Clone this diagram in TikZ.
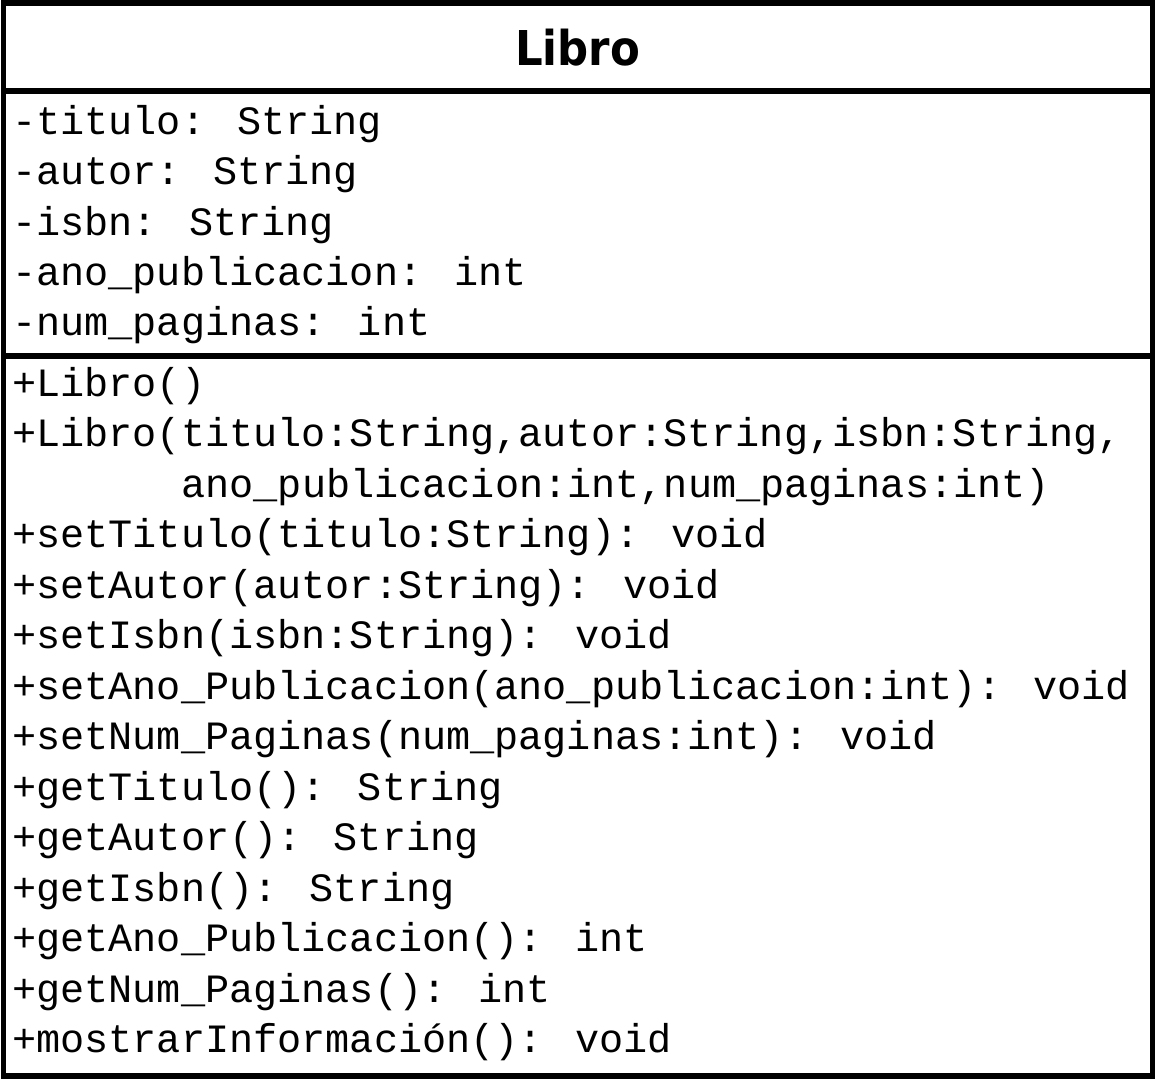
\documentclass[tikz,border=0pt]{standalone}
\usepackage{fontspec}
\usepackage{graphicx}
\newfontfamily\monof{Liberation Mono}
\newfontfamily\titlef{DejaVu Sans}
\begin{document}
\begin{tikzpicture}[x=1bp,y=-1bp,
  frame/.style={line width=5.5bp, draw=black},
  txt/.style={anchor=base west, inner sep=0pt, font=\monof\fontsize{40.2bp}{50bp}\selectfont},
  ttl/.style={anchor=base, inner sep=0pt, font=\titlef\bfseries\fontsize{48bp}{48bp}\selectfont}]
\useasboundingbox (0,0) rectangle (1156,1080);
\fill[white] (0,0) rectangle (1156,1080);
% frame
\draw[frame] (3.5,3) rectangle (1152.5,1076);
\draw[frame] (3.5,91) -- (1152.5,91);
\draw[frame] (3.5,356) -- (1152.5,356);
% title
\node[ttl] (title) at (577.5,65) {\scalebox{0.905}[1]{Libro}};
% attributes
\node[txt] (a1) at (12,134.5) {-titulo: String};
\node[txt] (a2) at (12,184.8) {-autor: String};
\node[txt] (a3) at (12,235.1) {-isbn: String};
\node[txt] (a4) at (12,285.4) {-ano\_publicacion: int};
\node[txt] (a5) at (12,335.7) {-num\_paginas: int};
% methods
\node[txt] (m1) at (12,396.5) {+Libro()};
\node[txt] (m2) at (12,446.96) {+Libro(titulo:String,autor:String,isbn:String,};
\node[txt] (m3) at (181.3,497.42) {ano\_publicacion:int,num\_paginas:int)};
\node[txt] (m4) at (12,547.88) {+setTitulo(titulo:String): void};
\node[txt] (m5) at (12,598.34) {+setAutor(autor:String): void};
\node[txt] (m6) at (12,648.8) {+setIsbn(isbn:String): void};
\node[txt] (m7) at (12,699.26) {+setAno\_Publicacion(ano\_publicacion:int): void};
\node[txt] (m8) at (12,749.72) {+setNum\_Paginas(num\_paginas:int): void};
\node[txt] (m9) at (12,800.18) {+getTitulo(): String};
\node[txt] (m10) at (12,850.64) {+getAutor(): String};
\node[txt] (m11) at (12,901.1) {+getIsbn(): String};
\node[txt] (m12) at (12,951.56) {+getAno\_Publicacion(): int};
\node[txt] (m13) at (12,1002.02) {+getNum\_Paginas(): int};
\node[txt] (m14) at (12,1052.5) {+mostrarInformación(): void};
\end{tikzpicture}
\end{document}
